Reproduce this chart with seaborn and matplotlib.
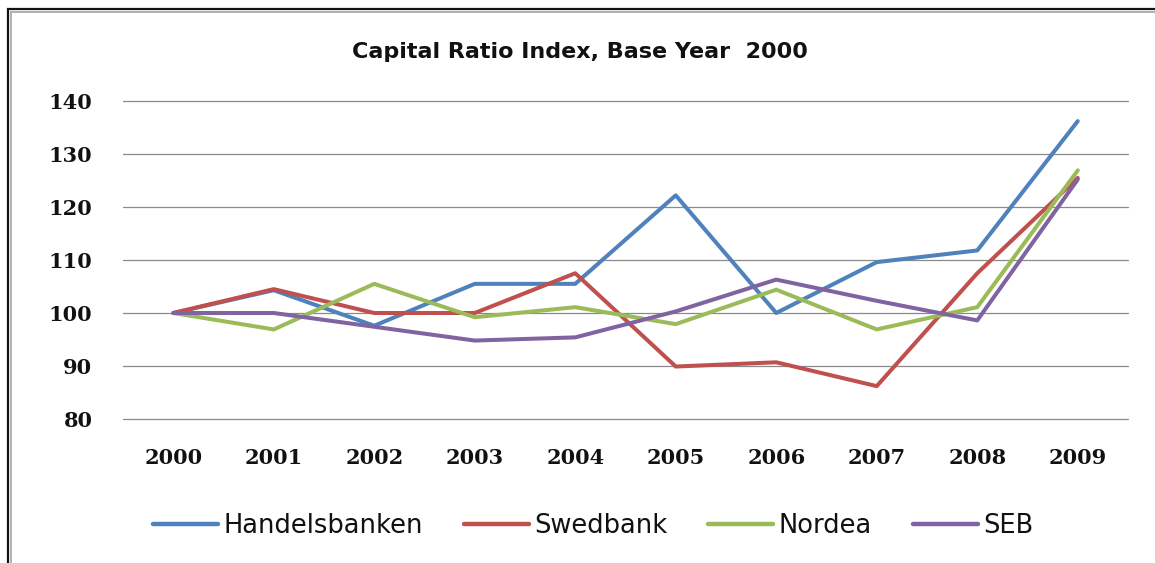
import matplotlib
matplotlib.use("Agg")
import matplotlib.pyplot as plt
import matplotlib.patches as mpatches
import seaborn as sns
import pandas as pd

years = [2000, 2001, 2002, 2003, 2004, 2005, 2006, 2007, 2008, 2009]
handelsbanken = [100, 104.3, 97.6, 105.5, 105.5, 122.2, 100.0, 109.6, 111.8, 136.2]
swedbank = [100, 104.5, 100.0, 100.0, 107.5, 89.9, 90.7, 86.2, 107.5, 125.5]
nordea = [100, 96.9, 105.5, 99.2, 101.1, 97.9, 104.4, 96.9, 101.1, 126.9]
seb = [100, 100.0, 97.4, 94.8, 95.4, 100.3, 106.3, 102.3, 98.6, 125.2]
banks = ["Handelsbanken", "Swedbank", "Nordea", "SEB"]
colors = ["#4F81BD", "#C0504D", "#9BBB59", "#8064A2"]
yticks = [80, 90, 100, 110, 120, 130, 140]

rows = []
for name, vals in zip(banks, [handelsbanken, swedbank, nordea, seb]):
    for y, v in zip(years, vals):
        rows.append({"Year": y, "Index": v, "Bank": name})
df = pd.DataFrame(rows)

sns.set_theme(style="white")
W, H = 1155, 563
fig = plt.figure(figsize=(W / 100, H / 100), dpi=100)
fig.patch.set_facecolor("white")

ax = fig.add_axes([123 / W, (H - 419) / H, 1005 / W, 318 / H])
ax.set_facecolor("white")
for y in yticks:
    ax.axhline(y, color="#8a8a8a", lw=0.9, zorder=0, clip_on=False)

sns.lineplot(data=df, x="Year", y="Index", hue="Bank", hue_order=banks,
             palette=colors, linewidth=2.9, sort=False, ax=ax, legend=False,
             zorder=3)

ax.set_xlim(1999.5, 2009.5)
ax.set_ylim(80, 140)
ax.set_xticks(years)
ax.set_yticks(yticks)
ax.set_xticklabels([str(y) for y in years])
ax.set_yticklabels([str(y) for y in yticks])
for s in ax.spines.values():
    s.set_visible(False)
ax.tick_params(axis="both", length=0, colors="#111111")
ax.tick_params(axis="y", pad=22)
ax.tick_params(axis="x", pad=21)
for lab in ax.get_xticklabels() + ax.get_yticklabels():
    lab.set_fontfamily("DejaVu Serif")
    lab.set_fontweight("bold")
    lab.set_fontsize(15)
ax.set_xlabel("")
ax.set_ylabel("")
ax.grid(False)

fig.text(580 / W, (H - 52) / H, "Capital Ratio Index, Base Year  2000",
         ha="center", va="center", fontsize=16, fontweight="bold",
         family=["DejaVu Sans"], color="#111111")

handles = [plt.Line2D([], [], color=c, lw=3.2) for c in colors]
leg = fig.legend(handles, banks, loc="center left",
                 bbox_to_anchor=(153 / W, (H - 526) / H),
                 ncol=4, frameon=False, borderpad=0, borderaxespad=0,
                 handlelength=2.53, handletextpad=0.2, columnspacing=1.6,
                 prop={"family": "DejaVu Sans", "size": 18.5})
for t in leg.get_texts():
    t.set_color("#111111")

# outer chart frame (double line), extends past right and bottom
fig.add_artist(mpatches.Rectangle((8 / W, -0.1), 1.2, (H - 9) / H + 0.1,
                                  transform=fig.transFigure, fill=False,
                                  edgecolor="#111111", lw=1.6))
fig.add_artist(mpatches.Rectangle((11 / W, -0.1), 1.2, (H - 12) / H + 0.1,
                                  transform=fig.transFigure, fill=False,
                                  edgecolor="#b0b0b0", lw=1.4))

fig.savefig("out.png", dpi=100, facecolor="white")
